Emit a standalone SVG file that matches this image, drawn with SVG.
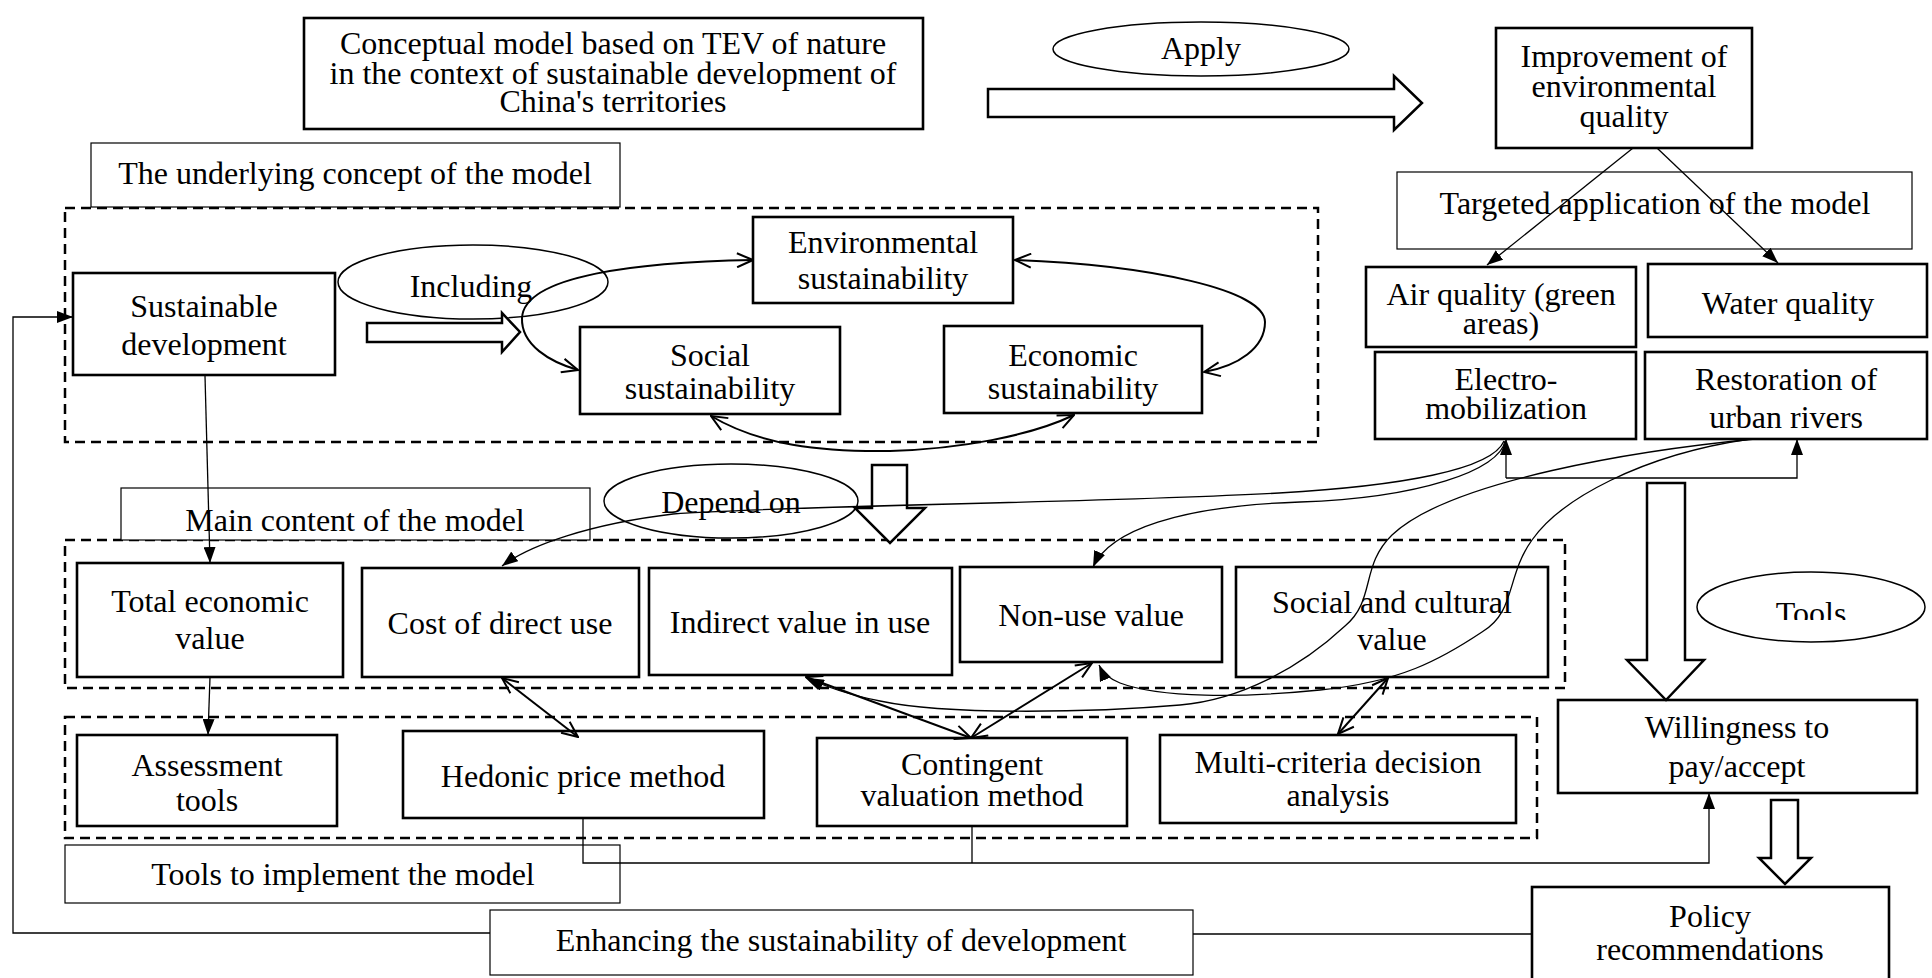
<svg xmlns="http://www.w3.org/2000/svg" width="1932" height="978" viewBox="0 0 1932 978">
<style>
.n{fill:#fff;stroke:#000;stroke-width:2.6}
.l{fill:#fff;stroke:#000;stroke-width:1.2}
.d{fill:none;stroke:#000;stroke-width:2.5;stroke-dasharray:10 6}
.t{font-family:"Liberation Serif","Times New Roman",serif;font-size:32px;fill:#000;text-anchor:middle}
.c{fill:none;stroke:#000;stroke-width:1.3}
.c2{fill:none;stroke:#000;stroke-width:2}
.h{fill:#fff;stroke:#000;stroke-width:2.5}
.e{fill:#fff;stroke:#000;stroke-width:1.5}
</style>
<defs>
<marker id="af" viewBox="0 0 16 12" refX="16" refY="6" markerWidth="16" markerHeight="12" markerUnits="userSpaceOnUse" orient="auto-start-reverse"><path d="M0,0 L16,6 L0,12 z" fill="#000"/></marker>
<marker id="ao" viewBox="0 0 18 16" refX="17" refY="8" markerWidth="18" markerHeight="16" markerUnits="userSpaceOnUse" orient="auto-start-reverse"><path d="M1,1 L17,8 L1,15" fill="none" stroke="#000" stroke-width="2"/></marker>
<clipPath id="toolsclip"><rect x="1690" y="560" width="240" height="60"/></clipPath>
</defs>

<g id="containers">
<rect class="d" x="65" y="208" width="1253" height="234"/>
<rect class="d" x="65" y="540" width="1500" height="148"/>
<rect class="d" x="65" y="717" width="1472" height="121"/>
</g>

<g id="title"><rect class="n" x="304" y="18" width="619" height="111"/>
<text class="t" x="613" y="54">Conceptual model based on TEV of nature</text>
<text class="t" x="613" y="84">in the context of sustainable development of</text>
<text class="t" x="613" y="112">China's territories</text></g>

<g id="apply"><ellipse class="e" cx="1201" cy="49" rx="148" ry="27"/><text class="t" x="1201" y="59">Apply</text></g>

<g id="underlying"><rect class="l" x="91" y="143" width="529" height="64"/><text class="t" x="355" y="184">The underlying concept of the model</text></g>
<g id="maincontent"><rect class="l" x="121" y="488" width="469" height="52"/><text class="t" x="355" y="531">Main content of the model</text></g>
<g id="toolslabel"><rect class="l" x="65" y="845" width="555" height="58"/><text class="t" x="343" y="885">Tools to implement the model</text></g>
<g id="enhancing"><rect class="l" x="490" y="910" width="703" height="65"/><text class="t" x="841" y="951">Enhancing the sustainability of development</text></g>
<g id="targeted"><rect class="l" x="1397" y="172" width="515" height="77"/><text class="t" x="1655" y="214">Targeted application of the model</text></g>

<g id="improvement"><rect class="n" x="1496" y="28" width="256" height="120"/>
<text class="t" x="1624" y="67">Improvement of</text><text class="t" x="1624" y="97">environmental</text><text class="t" x="1624" y="127">quality</text></g>

<g id="air"><rect class="n" x="1366" y="267" width="270" height="80"/><text class="t" x="1501" y="305">Air quality (green</text><text class="t" x="1501" y="334">areas)</text></g>
<g id="water"><rect class="n" x="1648" y="264" width="279" height="73"/><text class="t" x="1788" y="314">Water quality</text></g>
<g id="electro"><rect class="n" x="1375" y="352" width="261" height="87"/><text class="t" x="1506" y="390">Electro-</text><text class="t" x="1506" y="419">mobilization</text></g>
<g id="restoration"><rect class="n" x="1645" y="352" width="282" height="87"/><text class="t" x="1786" y="390">Restoration of</text><text class="t" x="1786" y="428">urban rivers</text></g>

<g id="sustainable"><rect class="n" x="73" y="273" width="262" height="102"/><text class="t" x="204" y="317">Sustainable</text><text class="t" x="204" y="355">development</text></g>
<g id="including"><ellipse class="e" cx="473" cy="282" rx="135" ry="37"/><text class="t" x="471" y="297">Including</text></g>
<g id="environmental"><rect class="n" x="753" y="217" width="260" height="86"/><text class="t" x="883" y="253">Environmental</text><text class="t" x="883" y="289">sustainability</text></g>
<g id="social"><rect class="n" x="580" y="327" width="260" height="87"/><text class="t" x="710" y="366">Social</text><text class="t" x="710" y="399">sustainability</text></g>
<g id="economic"><rect class="n" x="944" y="326" width="258" height="87"/><text class="t" x="1073" y="366">Economic</text><text class="t" x="1073" y="399">sustainability</text></g>

<g id="dependon"><ellipse class="e" cx="731" cy="501" rx="127" ry="37"/><text class="t" x="731" y="513">Depend on</text></g>

<g id="tev"><rect class="n" x="77" y="563" width="266" height="114"/><text class="t" x="210" y="612">Total economic</text><text class="t" x="210" y="649">value</text></g>
<g id="direct"><rect class="n" x="362" y="568" width="277" height="109"/><text class="t" x="500" y="634">Cost of direct use</text></g>
<g id="indirect"><rect class="n" x="649" y="568" width="303" height="107"/><text class="t" x="800" y="633">Indirect value in use</text></g>
<g id="nonuse"><rect class="n" x="960" y="567" width="262" height="95"/><text class="t" x="1091" y="626">Non-use value</text></g>
<g id="socialcultural"><rect class="n" x="1236" y="567" width="312" height="110"/><text class="t" x="1392" y="613">Social and cultural</text><text class="t" x="1392" y="650">value</text></g>

<g id="assessment"><rect class="n" x="77" y="735" width="260" height="91"/><text class="t" x="207" y="776">Assessment</text><text class="t" x="207" y="811">tools</text></g>
<g id="hedonic"><rect class="n" x="403" y="731" width="361" height="87"/><text class="t" x="583" y="787">Hedonic price method</text></g>
<g id="contingent"><rect class="n" x="817" y="738" width="310" height="88"/><text class="t" x="972" y="775">Contingent</text><text class="t" x="972" y="806">valuation method</text></g>
<g id="multicriteria"><rect class="n" x="1160" y="735" width="356" height="88"/><text class="t" x="1338" y="773">Multi-criteria decision</text><text class="t" x="1338" y="806">analysis</text></g>

<g id="tools"><ellipse class="e" cx="1811" cy="607" rx="114" ry="35"/><text class="t" x="1811" y="624" clip-path="url(#toolsclip)">Tools</text></g>
<g id="willingness"><rect class="n" x="1558" y="700" width="359" height="93"/><text class="t" x="1737" y="738">Willingness to</text><text class="t" x="1737" y="777">pay/accept</text></g>
<g id="policy"><rect class="n" x="1532" y="887" width="357" height="100"/><text class="t" x="1710" y="927">Policy</text><text class="t" x="1710" y="960">recommendations</text></g>

<g id="connectors">
<polygon class="h" points="988,89 1394,89 1394,76 1422,103 1394,130 1394,117 988,117"/>
<polygon class="h" points="367,323 502,323 502,313 520,332 502,352 502,342 367,342"/>
<polygon class="h" points="872,465 907,465 907,508 925,508 890,543 855,508 872,508"/>
<polygon class="h" points="1647,483 1685,483 1685,660 1704,660 1666,700 1627,660 1647,660"/>
<polygon class="h" points="1771,800 1798,800 1798,858 1811,858 1785,884 1759,858 1771,858"/>

<line class="c" x1="1633" y1="148" x2="1487" y2="265" marker-end="url(#af)"/>
<line class="c" x1="1657" y1="148" x2="1778" y2="263" marker-end="url(#af)"/>

<path class="c2" d="M753,260 C640,262 524,275 522,318 C521,345 550,362 578,370" marker-start="url(#ao)" marker-end="url(#ao)"/>
<path class="c2" d="M1015,260 C1150,265 1265,290 1265,322 C1265,348 1238,366 1204,372" marker-start="url(#ao)" marker-end="url(#ao)"/>
<path class="c2" d="M711,416 C760,445 820,452 890,451 C960,449 1030,436 1074,415" marker-start="url(#ao)" marker-end="url(#ao)"/>

<line class="c" x1="205" y1="376" x2="210" y2="563" marker-end="url(#af)"/>
<line class="c" x1="210" y1="677" x2="208" y2="735" marker-end="url(#af)"/>
<polyline class="c" points="490,933 13,933 13,317 73,317" marker-end="url(#af)"/>
<line class="c" x1="1193" y1="934" x2="1532" y2="934"/>
<polyline class="c" points="583,818 583,863 1709,863 1709,793" marker-end="url(#af)"/>
<line class="c" x1="972" y1="826" x2="972" y2="863"/>

<path class="c" d="M1506,478 L1506,439" marker-end="url(#af)"/>
<path class="c" d="M1506,478 L1797,478 L1797,439" marker-end="url(#af)"/>

<path class="c" d="M1504,441 C1492,470 1400,486 1279,493 C1100,503 800,505 673,514 C590,524 530,545 502,566" marker-end="url(#af)"/>
<path class="c" d="M1505,441 C1500,470 1420,498 1300,502 C1180,506 1110,530 1093,567" marker-end="url(#af)"/>
<path class="c" d="M1755,439 C1640,450 1450,480 1392,535 C1360,566 1376,600 1345,626 C1300,668 1240,700 1180,705 C1100,712 950,716 880,701 C850,695 826,687 808,678" marker-end="url(#af)"/>
<path class="c" d="M1750,439 C1640,455 1560,500 1532,540 C1506,576 1516,612 1482,632 C1440,660 1400,682 1320,690 C1240,698 1160,698 1120,683 C1110,679 1103,674 1099,665" marker-end="url(#af)"/>

<line class="c2" x1="502" y1="678" x2="578" y2="737" marker-start="url(#ao)" marker-end="url(#ao)"/>
<line class="c2" x1="806" y1="677" x2="971" y2="738" marker-start="url(#ao)" marker-end="url(#ao)"/>
<line class="c2" x1="1092" y1="663" x2="971" y2="738" marker-start="url(#ao)" marker-end="url(#ao)"/>
<line class="c2" x1="1388" y1="678" x2="1338" y2="734" marker-start="url(#ao)" marker-end="url(#ao)"/>
</g>
</svg>
